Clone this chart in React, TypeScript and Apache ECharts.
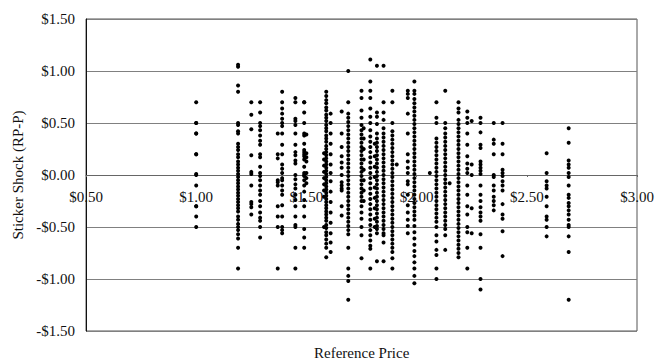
import React, { useEffect, useRef } from "react";
import * as echarts from "echarts";

// Reference prices (x) of each vertical column of observations
const columnPrices = [
  1.0, 1.19, 1.25, 1.29, 1.37, 1.39, 1.45, 1.49, 1.5, 1.58, 1.59, 1.61, 1.66, 1.69, 1.75, 1.76, 1.79, 1.81,
  1.82, 1.85, 1.89, 1.91, 1.96, 1.99, 2.06, 2.09, 2.13, 2.15, 2.19, 2.23, 2.25, 2.29, 2.35, 2.39, 2.59, 2.69,
];

// Sticker shock values (RP-P) in each column
const col100 = [0.7, 0.5, 0.5, 0.4, 0.4, 0.2, 0.2, 0.01, 0.0, -0.1, -0.3, -0.3, -0.4, -0.5];
const col119 = [1.06, 1.04, 0.86, 0.8, 0.5, 0.48, 0.42, 0.4, 0.3, 0.27, 0.24, 0.2, 0.17, 0.13, 0.1, 0.07, 0.04, 0.01, -0.02, -0.05, -0.08, -0.11, -0.14, -0.17, -0.2, -0.23, -0.26, -0.29, -0.32, -0.35, -0.4, -0.43, -0.47, -0.5, -0.53, -0.57, -0.61, -0.7, -0.9];
const col125 = [0.7, 0.58, 0.44, 0.19, 0.03, 0.01, -0.1, -0.26, -0.28, -0.31, -0.38];
const col129 = [0.7, 0.6, 0.5, 0.47, 0.43, 0.38, 0.33, 0.29, 0.2, 0.17, 0.08, 0.02, -0.01, -0.05, -0.1, -0.15, -0.19, -0.25, -0.3, -0.36, -0.41, -0.44, -0.5, -0.6];
const col137 = [0.4, 0.2, 0.16, -0.05, -0.07, -0.1, -0.3, -0.4, -0.5, -0.9];
const col139 = [0.8, 0.7, 0.64, 0.59, 0.54, 0.5, 0.47, 0.4, 0.29, 0.2, 0.1, 0.06, 0.02, -0.03, -0.05, -0.1, -0.15, -0.19, -0.29, -0.4, -0.5, -0.53, -0.56];
const col145 = [0.74, 0.7, 0.54, 0.52, 0.48, 0.4, 0.29, 0.22, 0.19, 0.14, 0.11, 0.0, -0.04, -0.09, -0.13, -0.19, -0.24, -0.3, -0.4, -0.48, -0.5, -0.7, -0.9];
const col149 = [0.7, 0.7, 0.6, 0.5, 0.4, 0.38, 0.3, 0.24, 0.22, 0.2, 0.18, 0.15, 0.08, 0.02, 0.0, -0.01, -0.05, -0.1, -0.16, -0.24, -0.3, -0.4, -0.52, -0.6, -0.7];
const col150 = [0.39, 0.21, 0.17, 0.13, 0.02, -0.03, -0.08];
const col158 = [0.21, 0.15, 0.09, 0.03, -0.03, -0.09, -0.15, -0.21, -0.5];
const col159 = [0.8, 0.76, 0.72, 0.69, 0.65, 0.62, 0.58, 0.55, 0.52, 0.48, 0.45, 0.42, 0.38, 0.35, 0.32, 0.28, 0.25, 0.22, 0.19, 0.16, 0.13, 0.1, 0.07, 0.04, 0.01, -0.02, -0.05, -0.08, -0.11, -0.14, -0.17, -0.2, -0.23, -0.26, -0.29, -0.32, -0.35, -0.38, -0.41, -0.44, -0.48, -0.51, -0.55, -0.58, -0.62, -0.66, -0.7, -0.79];
const col161 = [0.59, 0.5, 0.4, 0.3, 0.2, 0.1, 0.02, -0.06, -0.16, -0.26, -0.36, -0.46, -0.56, -0.65, -0.74];
const col166 = [0.61, 0.4, 0.27, 0.18, 0.12, 0.07, 0.0, -0.07, -0.1, -0.13, -0.15, -0.3, -0.39];
const col169 = [1.0, 0.7, 0.59, 0.55, 0.51, 0.47, 0.43, 0.39, 0.35, 0.31, 0.27, 0.23, 0.19, 0.15, 0.11, 0.07, 0.03, -0.01, -0.05, -0.09, -0.13, -0.17, -0.21, -0.25, -0.29, -0.33, -0.37, -0.41, -0.45, -0.49, -0.53, -0.57, -0.7, -0.9, -0.97, -1.02, -1.2];
const col175 = [0.81, 0.74, 0.62, 0.55, 0.48, 0.43, 0.39, 0.35, 0.31, 0.27, 0.23, 0.19, 0.15, 0.11, 0.07, 0.03, -0.01, -0.05, -0.09, -0.13, -0.17, -0.21, -0.25, -0.3, -0.36, -0.42, -0.5, -0.58, -0.8];
const col176 = [0.45, 0.35, 0.25, 0.15, 0.05, -0.05, -0.15, -0.25];
const col179 = [1.11, 0.9, 0.81, 0.74, 0.64, 0.56, 0.5, 0.43, 0.37, 0.32, 0.27, 0.22, 0.17, 0.12, 0.07, 0.02, -0.03, -0.08, -0.13, -0.18, -0.23, -0.28, -0.33, -0.38, -0.43, -0.48, -0.53, -0.58, -0.63, -0.68, -0.71, -0.9];
const col181 = [0.3, 0.18, 0.08, -0.02, -0.12, -0.22, -0.32, -0.42, -0.5];
const col182 = [1.05, 0.6, 0.56, 0.49, 0.4, 0.35, 0.31, 0.27, 0.23, 0.19, 0.15, 0.11, 0.07, 0.03, -0.01, -0.05, -0.09, -0.13, -0.17, -0.21, -0.25, -0.29, -0.33, -0.37, -0.41, -0.45, -0.49, -0.52, -0.56, -0.83];
const col185 = [1.05, 0.7, 0.6, 0.53, 0.45, 0.4, 0.36, 0.32, 0.28, 0.24, 0.2, 0.16, 0.12, 0.08, 0.04, 0.0, -0.04, -0.08, -0.12, -0.16, -0.2, -0.24, -0.28, -0.32, -0.36, -0.4, -0.44, -0.48, -0.52, -0.56, -0.58, -0.65, -0.83];
const col189 = [0.81, 0.7, 0.5, 0.42, 0.38, 0.34, 0.3, 0.26, 0.22, 0.18, 0.14, 0.1, 0.06, 0.02, -0.02, -0.06, -0.1, -0.14, -0.18, -0.22, -0.26, -0.3, -0.34, -0.38, -0.42, -0.46, -0.5, -0.54, -0.58, -0.62, -0.66, -0.7, -0.74, -0.8, -0.9];
const col191 = [0.1];
const col196 = [0.81, 0.78, 0.74, 0.59, 0.4, 0.2, 0.13, 0.07, 0.02, -0.06, -0.09, -0.19, -0.29, -0.36, -0.43, -0.49, -0.56];
const col199 = [0.9, 0.81, 0.78, 0.73, 0.69, 0.65, 0.61, 0.57, 0.53, 0.49, 0.45, 0.41, 0.37, 0.33, 0.29, 0.25, 0.21, 0.17, 0.13, 0.09, 0.05, 0.01, -0.03, -0.07, -0.11, -0.15, -0.19, -0.23, -0.27, -0.31, -0.35, -0.39, -0.43, -0.49, -0.55, -0.61, -0.67, -0.73, -0.78, -0.84, -0.9, -0.97, -1.04];
const col206 = [0.02];
const col209 = [0.7, 0.55, 0.5, 0.35, 0.31, 0.27, 0.23, 0.19, 0.15, 0.11, 0.07, 0.03, -0.01, -0.05, -0.09, -0.13, -0.17, -0.21, -0.25, -0.29, -0.33, -0.37, -0.41, -0.45, -0.5, -0.58, -0.64, -0.72, -0.77, -0.9, -1.0];
const col213 = [0.81, 0.5, 0.45, 0.4, 0.36, 0.32, 0.28, 0.24, 0.2, 0.16, 0.12, 0.08, 0.04, 0.0, -0.04, -0.08, -0.12, -0.16, -0.2, -0.24, -0.28, -0.32, -0.36, -0.4, -0.44, -0.48, -0.52, -0.58, -0.72];
const col215 = [-0.08];
const col219 = [0.7, 0.64, 0.6, 0.53, 0.49, 0.45, 0.41, 0.37, 0.33, 0.29, 0.25, 0.21, 0.17, 0.13, 0.09, 0.05, 0.01, -0.03, -0.07, -0.11, -0.15, -0.19, -0.23, -0.27, -0.31, -0.35, -0.39, -0.43, -0.47, -0.51, -0.55, -0.59, -0.63, -0.67, -0.71, -0.75, -0.79];
const col223 = [0.61, 0.55, 0.5, 0.4, 0.29, 0.18, 0.11, 0.06, 0.02, -0.1, -0.19, -0.3, -0.38, -0.5, -0.55, -0.7, -0.9];
const col225 = [0.52, 0.1, 0.0, -0.32, -0.56];
const col229 = [0.55, 0.5, 0.41, 0.29, 0.26, 0.13, 0.1, 0.07, 0.04, 0.01, -0.1, -0.19, -0.25, -0.31, -0.36, -0.4, -0.44, -0.57, -0.7, -1.0, -1.1];
const col235 = [0.5, 0.34, 0.3, 0.2, 0.0, -0.02, -0.1, -0.15, -0.21, -0.25, -0.29, -0.34];
const col239 = [0.5, 0.3, 0.2, 0.05, 0.02, -0.01, -0.06, -0.1, -0.15, -0.28, -0.38, -0.42, -0.54, -0.78];
const col259 = [0.21, 0.02, -0.06, -0.1, -0.13, -0.21, -0.3, -0.4, -0.43, -0.5, -0.59];
const col269 = [0.45, 0.31, 0.14, 0.1, 0.07, 0.02, -0.02, -0.1, -0.19, -0.22, -0.27, -0.3, -0.34, -0.38, -0.43, -0.48, -0.5, -0.59, -0.74, -1.2];

const columnShocks = [
  col100, col119, col125, col129, col137, col139, col145, col149, col150, col158, col159, col161, col166, col169,
  col175, col176, col179, col181, col182, col185, col189, col191, col196, col199, col206, col209, col213, col215,
  col219, col223, col225, col229, col235, col239, col259, col269,
];

const xTicks = { min: 0.5, max: 3.0, interval: 0.5 };
const yTicks = { min: -1.5, max: 1.5, interval: 0.5 };

const FONT = "'Liberation Serif', 'Times New Roman', serif";

const money = (v: number) => (v < 0 ? "-$" + Math.abs(v).toFixed(2) : "$" + v.toFixed(2));

export default function App() {
  const ref = useRef<HTMLDivElement>(null);
  useEffect(() => {
    if (!ref.current) return;
    const chart = echarts.init(ref.current, undefined, { renderer: "svg" });
    const points: number[][] = [];
    columnPrices.forEach((p, i) => {
      columnShocks[i].forEach((s) => points.push([p, s]));
    });
    chart.setOption({
      animation: false,
      backgroundColor: "#ffffff",
      grid: {
        left: 86,
        right: 25,
        top: 19,
        bottom: 31,
        show: true,
        borderColor: "#555555",
        borderWidth: 1,
        containLabel: false,
      },
      xAxis: {
        type: "value",
        min: xTicks.min,
        max: xTicks.max,
        interval: xTicks.interval,
        position: "bottom",
        offset: -156,
        axisLine: { show: true, onZero: false, lineStyle: { color: "#666666", width: 1 } },
        axisTick: { show: true, length: 2, lineStyle: { color: "#666666" } },
        splitLine: { show: false },
        axisLabel: {
          margin: 14,
          color: "#111111",
          fontFamily: FONT,
          fontSize: 15,
          formatter: (v: number) => money(v),
        },
      },
      yAxis: {
        type: "value",
        min: yTicks.min,
        max: yTicks.max,
        interval: yTicks.interval,
        name: "Sticker Shock (RP-P)",
        nameLocation: "middle",
        nameGap: 53,
        nameTextStyle: { color: "#111111", fontFamily: FONT, fontSize: 15 },
        axisLine: { show: true, onZero: false, lineStyle: { color: "#111111", width: 1 } },
        axisTick: { show: false },
        splitLine: { show: true, lineStyle: { color: "#808080", width: 1 } },
        axisLabel: {
          margin: 11,
          color: "#111111",
          fontFamily: FONT,
          fontSize: 15,
          formatter: (v: number) => money(v),
        },
      },
      graphic: [
        {
          type: "text",
          left: 314,
          top: 345,
          style: {
            text: "Reference Price",
            fill: "#111111",
            font: "15px " + FONT,
          },
        },
      ],
      series: [
        {
          type: "scatter",
          data: points,
          symbol: "circle",
          symbolSize: 4,
          itemStyle: { color: "#000000", opacity: 1 },
        },
      ],
    });
    return () => chart.dispose();
  }, []);
  return (
    <div
      ref={ref}
      style={{ position: "fixed", left: 0, top: 0, width: 662, height: 362, background: "#fff" }}
    />
  );
}
